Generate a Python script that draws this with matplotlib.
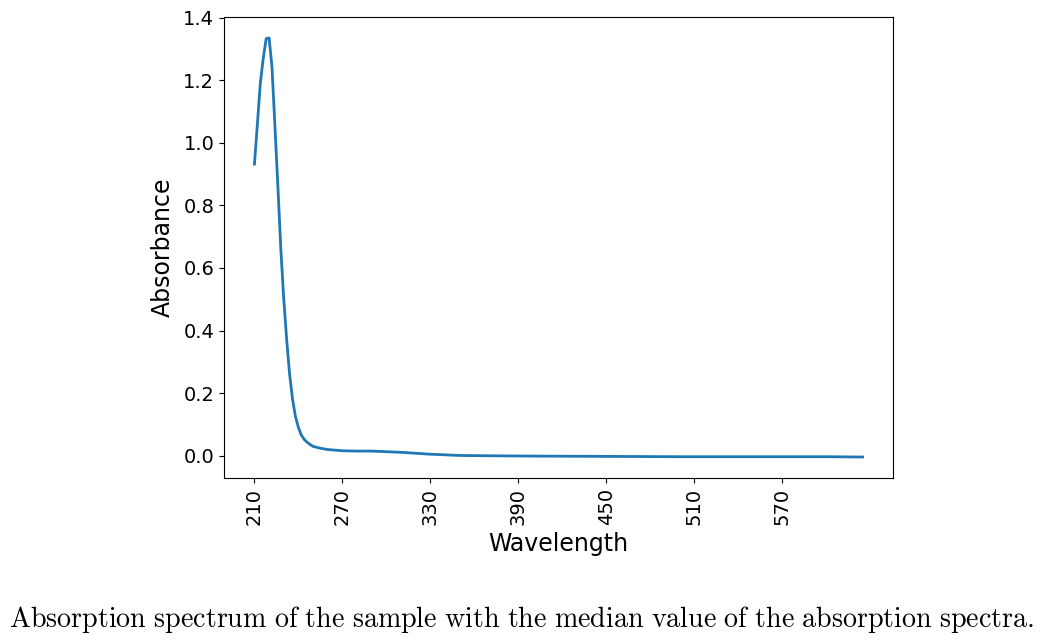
import numpy as np
import matplotlib
matplotlib.use("Agg")
import matplotlib.pyplot as plt

plt.rcParams["mathtext.fontset"] = "cm"

wavelength = [210, 212, 214, 216, 218, 220, 222, 224, 226, 228, 230, 232, 234,
              236, 238, 240, 242, 244, 246, 248, 250, 255, 260, 270, 280, 290,
              300, 310, 320, 330, 340, 350, 370, 400, 450, 500, 550, 600, 625]
absorbance = [0.932, 1.06, 1.19, 1.27, 1.333, 1.335, 1.24, 1.05, 0.86, 0.66,
              0.50, 0.37, 0.26, 0.18, 0.125, 0.09, 0.066, 0.052, 0.043, 0.036,
              0.030, 0.024, 0.020, 0.016, 0.015, 0.015, 0.013, 0.011, 0.008,
              0.005, 0.003, 0.001, 0.000, -0.001, -0.002, -0.003, -0.003,
              -0.003, -0.004]
tick_values = [210, 270, 330, 390, 450, 510, 570]

fig = plt.figure(figsize=(10.44, 6.44), dpi=100)
ax = fig.add_axes([0.2146, 0.2578, 0.6408, 0.7158])
ax.plot(wavelength, absorbance, color="#1f77b4", linewidth=2)

ax.set_xticks(tick_values)
ax.set_xticklabels([str(t) for t in tick_values], rotation=90)
ax.tick_params(labelsize=14)
ax.set_xlabel("Wavelength", fontsize=17, labelpad=5)
ax.set_ylabel("Absorbance", fontsize=17, labelpad=6)

caption = "Absorption spectrum of the sample with the median value of the absorption spectra."
fig.text(0.5, 0.038, r"$\mathrm{" + caption.replace(" ", r"\ ") + "}$",
         ha="center", va="center", fontsize=20.2)

fig.savefig("out.png", dpi=100)
